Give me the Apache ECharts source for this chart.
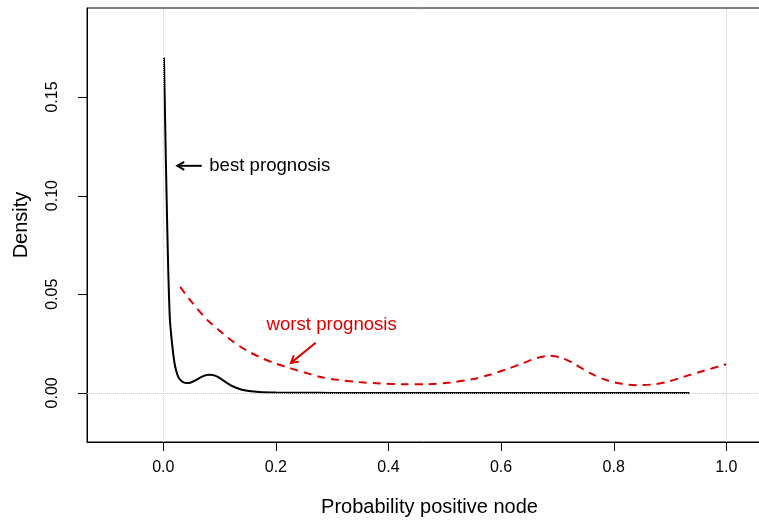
<!DOCTYPE html>
<html>
<head>
<meta charset="utf-8">
<script src="https://cdn.jsdelivr.net/npm/echarts@6/dist/echarts.min.js"></script>
<style>
html,body{margin:0;padding:0;background:#fff;overflow:hidden;}
#chart{width:759px;height:523px;}
</style>
</head>
<body>
<div id="chart"></div>
<script>
// ---- data ----
var xTicks = [0, 0.2, 0.4, 0.6, 0.8, 1.0];
var yTicks = [0, 0.05, 0.10, 0.15];

var bestX = [0.0012, 0.003, 0.0048, 0.0068, 0.0089, 0.0105, 0.012, 0.015, 0.018, 0.021, 0.026, 0.031, 0.036, 0.042, 0.049, 0.056, 0.064, 0.072, 0.080, 0.088, 0.096, 0.105, 0.115, 0.125, 0.138, 0.152, 0.170, 0.20, 0.25, 0.30, 0.40, 0.50, 0.60, 0.70, 0.80, 0.935];
var bestY = [0.170, 0.142, 0.1146, 0.087, 0.061, 0.046, 0.036, 0.0267, 0.019, 0.0135, 0.0085, 0.0063, 0.0053, 0.0050, 0.0053, 0.0062, 0.0075, 0.0086, 0.0092, 0.0091, 0.0082, 0.0066, 0.0047, 0.0031, 0.0017, 0.0009, 0.0004, 0.00015, 0.00004, 0, 0, 0, 0, 0, 0, 0];

var worstX = [0.03, 0.05, 0.078, 0.10, 0.12, 0.145, 0.172, 0.195, 0.22, 0.25, 0.28, 0.31, 0.345, 0.385, 0.425, 0.47, 0.51, 0.55, 0.58, 0.61, 0.64, 0.665, 0.685, 0.705, 0.728, 0.758, 0.788, 0.815, 0.842, 0.87, 0.895, 0.923, 0.96, 0.994, 1.0];
var worstY = [0.0537, 0.0462, 0.037, 0.0315, 0.0268, 0.0220, 0.0180, 0.0153, 0.0130, 0.0104, 0.0080, 0.0066, 0.0055, 0.0048, 0.0044, 0.0044, 0.0053, 0.0070, 0.0092, 0.0120, 0.0152, 0.0178, 0.0188, 0.0180, 0.0151, 0.0100, 0.0064, 0.0046, 0.0039, 0.0043, 0.0056, 0.0080, 0.0112, 0.0140, 0.0145];

var annoText = ['best prognosis', 'worst prognosis'];
var annoX = [0.0817, 0.2991];
var annoY = [0.1151, 0.0344];
var annoAlign = ['left', 'center'];

// arrows: tail -> head
var arrowTailX = [0.0683, 0.2707];
var arrowTailY = [0.1151, 0.0254];
var arrowHeadX = [0.0249, 0.2268];
var arrowHeadY = [0.1151, 0.0152];

// axis limits
var XMIN = -0.1355, XMAX = 1.0812, YMIN = -0.0249, YMAX = 0.1951;

var colBest = '#000000';
var colWorst = '#DD0000';
var annoColors = [colBest, colWorst];
var FONT = "'Liberation Sans', Arial, Helvetica, sans-serif";
var TICKLEN = 9;

function zip(a, b) { return a.map(function (v, i) { return [v, b[i]]; }); }

var chart = echarts.init(document.getElementById('chart'));
var option = {
  animation: false,
  backgroundColor: '#ffffff',
  grid: {
    left: 87, top: 8, width: 685, height: 434,
    outerBoundsMode: 'none',
    show: true, borderColor: '#000000', borderWidth: 1, backgroundColor: 'transparent',
    containLabel: false
  },
  xAxis: {
    type: 'value', min: XMIN, max: XMAX,
    name: 'Probability positive node', nameLocation: 'middle', nameGap: 55,
    nameTextStyle: { fontFamily: FONT, fontSize: 20, color: '#000' },
    axisLine: { show: true, onZero: false, lineStyle: { color: '#000', width: 1 } },
    splitLine: { show: false },
    axisTick: { show: false },
    axisLabel: {
      fontFamily: FONT, fontSize: 16, color: '#000', margin: 18,
      customValues: xTicks,
      formatter: function (v) { return v.toFixed(1); }
    }
  },
  yAxis: {
    type: 'value', min: YMIN, max: YMAX,
    name: 'Density', nameLocation: 'middle', nameGap: 56, nameRotate: 90,
    nameTextStyle: { fontFamily: FONT, fontSize: 20, color: '#000' },
    axisLine: { show: true, onZero: false, lineStyle: { color: '#000', width: 1 } },
    splitLine: { show: false },
    axisTick: { show: false },
    axisLabel: {
      fontFamily: FONT, fontSize: 16, color: '#000', margin: 26, rotate: 90,
      customValues: yTicks,
      formatter: function (v) { return v.toFixed(2); }
    }
  },
  series: [
    {
      type: 'line', data: [], z: 1, silent: true,
      markLine: {
        silent: true, symbol: 'none', animation: false,
        label: { show: false },
        lineStyle: { color: '#CCCCCC', type: 'dotted', width: 1 },
        emphasis: { disabled: true },
        data: [{ xAxis: 0 }, { xAxis: 1 }, { yAxis: 0 }]
      }
    },
    {
      name: 'best', type: 'line', data: zip(bestX, bestY), showSymbol: false, symbol: 'none',
      smooth: 0.2, z: 3,
      lineStyle: { color: colBest, width: 2 }
    },
    {
      name: 'worst', type: 'line', data: zip(worstX, worstY), showSymbol: false, symbol: 'none',
      smooth: 0.3, z: 3,
      lineStyle: { color: colWorst, width: 2, type: [8, 6] }
    },
    {
      type: 'custom', z: 4, silent: true,
      data: arrowTailX.map(function (v, i) { return [v, arrowTailY[i], arrowHeadX[i], arrowHeadY[i], i]; }),
      encode: { x: [0, 2], y: [1, 3] },
      renderItem: function (params, api) {
        var t = api.coord([api.value(0), api.value(1)]);
        var h = api.coord([api.value(2), api.value(3)]);
        var col = annoColors[api.value(4)];
        var ang = Math.atan2(t[1] - h[1], t[0] - h[0]);
        var L = 8, a = Math.PI / 6;
        var p1 = [h[0] + L * Math.cos(ang + a), h[1] + L * Math.sin(ang + a)];
        var p2 = [h[0] + L * Math.cos(ang - a), h[1] + L * Math.sin(ang - a)];
        var st = { stroke: col, lineWidth: 2, fill: null };
        return {
          type: 'group',
          children: [
            { type: 'line', shape: { x1: t[0], y1: t[1], x2: h[0], y2: h[1] }, style: st },
            { type: 'polyline', shape: { points: [p1, h, p2] }, style: st }
          ]
        };
      }
    },
    {
      type: 'custom', z: 4, silent: true,
      data: annoX.map(function (v, i) { return [v, annoY[i], i]; }),
      encode: { x: 0, y: 1 },
      renderItem: function (params, api) {
        var p = api.coord([api.value(0), api.value(1)]);
        var i = api.value(2);
        return {
          type: 'text',
          style: {
            x: p[0], y: p[1], text: annoText[i],
            fill: annoColors[i], font: '18.6px ' + FONT,
            textAlign: annoAlign[i], textVerticalAlign: 'middle'
          }
        };
      }
    }
  ]
};
chart.setOption(option);

// tick marks outside the box, placed through the chart's own scales
var tickGraphics = [];
xTicks.forEach(function (v) {
  var p = chart.convertToPixel({ gridIndex: 0 }, [v, YMIN]);
  var x = Math.round(p[0]) + 0.5, y = Math.round(p[1]);
  tickGraphics.push({ type: 'line', silent: true, z: 100, shape: { x1: x, y1: y, x2: x, y2: y + TICKLEN }, style: { stroke: '#000', lineWidth: 1 } });
});
yTicks.forEach(function (v) {
  var p = chart.convertToPixel({ gridIndex: 0 }, [XMIN, v]);
  var x = Math.round(p[0]), y = Math.round(p[1]) + 0.5;
  tickGraphics.push({ type: 'line', silent: true, z: 100, shape: { x1: x, y1: y, x2: x - TICKLEN, y2: y }, style: { stroke: '#000', lineWidth: 1 } });
});
chart.setOption({ graphic: { elements: tickGraphics } });
</script>
</body>
</html>
